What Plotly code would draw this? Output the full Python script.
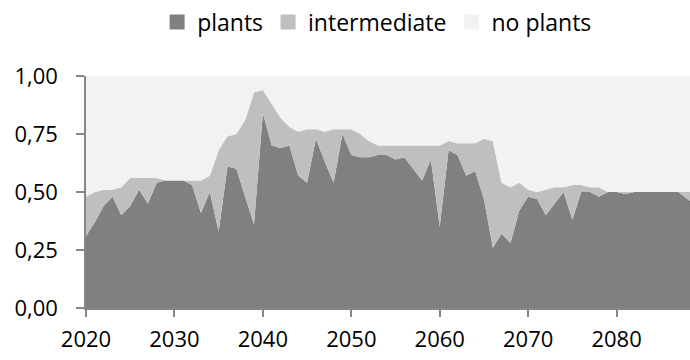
import plotly.graph_objects as go

# share of area by class, one value per year (2020-2089)
years = list(range(2020, 2090))

plants = [
    0.31, 0.37, 0.44, 0.48, 0.40, 0.44, 0.51, 0.45, 0.54, 0.55,
    0.55, 0.55, 0.53, 0.41, 0.50, 0.33, 0.61, 0.60, 0.48, 0.36,
    0.84, 0.70, 0.69, 0.70, 0.57, 0.54, 0.73, 0.63, 0.54, 0.75,
    0.66, 0.65, 0.65, 0.66, 0.66, 0.64, 0.65, 0.60, 0.55, 0.64,
    0.35, 0.68, 0.66, 0.57, 0.59, 0.47, 0.26, 0.32, 0.28, 0.42,
    0.48, 0.47, 0.40, 0.45, 0.50, 0.38, 0.50, 0.50, 0.48, 0.50,
    0.50, 0.49, 0.50, 0.50, 0.50, 0.50, 0.50, 0.50, 0.47, 0.44,
]
intermediate = [
    0.17, 0.13, 0.07, 0.03, 0.12, 0.12, 0.05, 0.11, 0.02, 0.00,
    0.00, 0.00, 0.02, 0.14, 0.07, 0.35, 0.13, 0.15, 0.33, 0.57,
    0.10, 0.18, 0.13, 0.08, 0.19, 0.23, 0.04, 0.13, 0.23, 0.02,
    0.11, 0.10, 0.07, 0.04, 0.04, 0.06, 0.05, 0.10, 0.15, 0.06,
    0.35, 0.04, 0.05, 0.14, 0.12, 0.26, 0.46, 0.22, 0.24, 0.12,
    0.03, 0.03, 0.11, 0.07, 0.02, 0.15, 0.03, 0.02, 0.04, 0.00,
    0.00, 0.01, 0.00, 0.00, 0.00, 0.00, 0.00, 0.00, 0.03, 0.06,
]
no_plants = [
    0.52, 0.50, 0.49, 0.49, 0.48, 0.44, 0.44, 0.44, 0.44, 0.45,
    0.45, 0.45, 0.45, 0.45, 0.43, 0.32, 0.26, 0.25, 0.19, 0.07,
    0.06, 0.12, 0.18, 0.22, 0.24, 0.23, 0.23, 0.24, 0.23, 0.23,
    0.23, 0.25, 0.28, 0.30, 0.30, 0.30, 0.30, 0.30, 0.30, 0.30,
    0.30, 0.28, 0.29, 0.29, 0.29, 0.27, 0.28, 0.46, 0.48, 0.46,
    0.49, 0.50, 0.49, 0.48, 0.48, 0.47, 0.47, 0.48, 0.48, 0.50,
    0.50, 0.50, 0.50, 0.50, 0.50, 0.50, 0.50, 0.50, 0.50, 0.50,
]

series = [
    ("plants", plants, "#808080"),
    ("intermediate", intermediate, "#bfbfbf"),
    ("no plants", no_plants, "#f2f2f2"),
]

FONT = "Open Sans"
AXIS = "#868686"

fig = go.Figure()

for name, vals, col in series:
    fig.add_trace(go.Scatter(x=years, y=vals, name=name, stackgroup="one",
                             mode="lines", line=dict(width=0, color=col),
                             fillcolor=col, showlegend=False, hoverinfo="skip"))

# square legend keys
for name, vals, col in series:
    fig.add_trace(go.Scatter(x=[None], y=[None], name=name, mode="markers",
                             marker=dict(symbol="square", size=15, color=col)))

fig.update_layout(
    width=690, height=360,
    margin=dict(l=86, r=0, t=76, b=52, autoexpand=False),
    plot_bgcolor="white", paper_bgcolor="white",
    separators=", ",
    font=dict(family=FONT, size=22, color="black"),
    legend=dict(orientation="h", x=0.482, xanchor="center",
                yref="container", y=0.939, yanchor="middle",
                traceorder="normal", font=dict(size=23), itemwidth=30),
)

fig.update_xaxes(range=[2020, 2088.3], tick0=2020, dtick=10, tickformat="d",
                 showgrid=False, zeroline=False, showline=True, linecolor=AXIS,
                 linewidth=1.5, ticks="outside", ticklen=7, tickcolor=AXIS,
                 tickwidth=1.5, ticklabelstandoff=4, automargin=False)

fig.update_yaxes(range=[0, 1], tick0=0, dtick=0.25, tickformat=".2f",
                 showgrid=False, zeroline=False, showline=True, linecolor=AXIS,
                 linewidth=1.5, ticks="outside", ticklen=8, tickcolor=AXIS,
                 tickwidth=1.5, ticklabelstandoff=14, automargin=False)

# drop the default page margin so the figure sits at the window's corner
fig.write_html("out.html", config={"displayModeBar": False},
               post_script="document.body.style.margin='0';"
                           "document.body.style.overflow='hidden';")
